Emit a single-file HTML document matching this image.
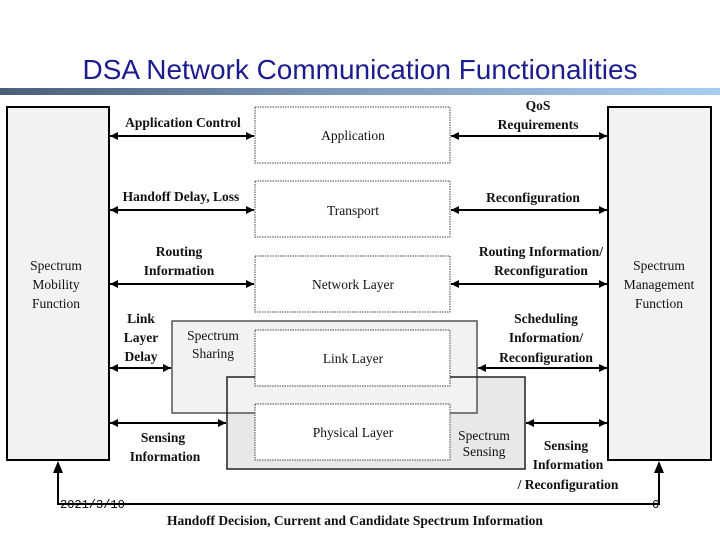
<!DOCTYPE html>
<html><head><meta charset="utf-8"><style>
html,body{margin:0;padding:0;background:#fff;}
svg{display:block;}
.t{font-family:"Liberation Serif",serif;font-size:13.5px;fill:#111;text-anchor:middle;}
.b{font-weight:bold;}
</style></head><body>
<svg width="720" height="540" viewBox="0 0 720 540" xmlns="http://www.w3.org/2000/svg">
<defs>
<linearGradient id="g" x1="0" x2="1" y1="0" y2="0">
<stop offset="0" stop-color="#4a5f78"/><stop offset="0.5" stop-color="#7f9cc0"/><stop offset="1" stop-color="#a9cdf2"/>
</linearGradient>
<marker id="a" viewBox="0 0 10 10" refX="10" refY="5" markerWidth="10" markerHeight="8" markerUnits="userSpaceOnUse" orient="auto-start-reverse">
<path d="M0,0 L10,5 L0,10 z" fill="#000"/></marker>
</defs>
<text x="360" y="79" font-family="Liberation Sans,sans-serif" font-size="28" fill="#1c1c8e" text-anchor="middle" textLength="555" lengthAdjust="spacingAndGlyphs">DSA Network Communication Functionalities</text>
<rect x="0" y="88" width="720" height="7" fill="url(#g)"/>

<rect x="7" y="107" width="102" height="353" fill="#f2f2f2" stroke="#000" stroke-width="2"/>
<rect x="608" y="107" width="103" height="353" fill="#f2f2f2" stroke="#000" stroke-width="2"/>

<rect x="227" y="377" width="298" height="92" fill="#e8e8e8"/>
<rect x="172" y="321" width="305" height="92" fill="#f2f2f2"/>
<rect x="172" y="321" width="305" height="92" fill="none" stroke="#555" stroke-width="1.5"/>
<rect x="227" y="377" width="298" height="92" fill="none" stroke="#222" stroke-width="1.5"/>

<g fill="#fff" stroke="#444" stroke-width="1" stroke-dasharray="1.5,1">
<rect x="255" y="107" width="195" height="56"/>
<rect x="255" y="181" width="195" height="56"/>
<rect x="255" y="256" width="195" height="56"/>
<rect x="255" y="330" width="195" height="56"/>
<rect x="255" y="404" width="195" height="56"/>
</g>

<g stroke="#000" stroke-width="2" marker-start="url(#a)" marker-end="url(#a)">
<line x1="110" y1="136" x2="254" y2="136"/>
<line x1="110" y1="210" x2="254" y2="210"/>
<line x1="110" y1="284" x2="254" y2="284"/>
<line x1="110" y1="368" x2="171" y2="368"/>
<line x1="110" y1="423" x2="226" y2="423"/>
<line x1="451" y1="136" x2="607" y2="136"/>
<line x1="451" y1="210" x2="607" y2="210"/>
<line x1="451" y1="284" x2="607" y2="284"/>
<line x1="478" y1="368" x2="607" y2="368"/>
<line x1="526" y1="423" x2="607" y2="423"/>
</g>
<g stroke="#000" stroke-width="2" fill="none">
<polyline points="58,472 58,504 659,504 659,472"/>
</g>
<path d="M53,473 L58,461 L63,473 z M654,473 L659,461 L664,473 z"/>

<g class="t">
<text x="56" y="270">Spectrum</text><text x="56" y="289">Mobility</text><text x="56" y="308">Function</text>
<text x="659" y="270">Spectrum</text><text x="659" y="289">Management</text><text x="659" y="308">Function</text>
<text x="353" y="140">Application</text>
<text x="353" y="215">Transport</text>
<text x="353" y="289">Network Layer</text>
<text x="353" y="363">Link Layer</text>
<text x="353" y="437">Physical  Layer</text>
<text x="213" y="340">Spectrum</text><text x="213" y="358">Sharing</text>
<text x="484" y="440">Spectrum</text><text x="484" y="456">Sensing</text>
<text x="183" y="127" class="b">Application Control</text>
<text x="181" y="201" class="b">Handoff Delay, Loss</text>
<text x="179" y="256" class="b">Routing</text><text x="179" y="275" class="b">Information</text>
<text x="141" y="323" class="b">Link</text><text x="141" y="342" class="b">Layer</text><text x="141" y="361" class="b">Delay</text>
<text x="163" y="442" class="b">Sensing</text><text x="165" y="461" class="b">Information</text>
<text x="538" y="110" class="b">QoS</text><text x="538" y="129" class="b">Requirements</text>
<text x="533" y="202" class="b">Reconfiguration</text>
<text x="541" y="256" class="b">Routing Information/</text><text x="541" y="275" class="b">Reconfiguration</text>
<text x="546" y="323" class="b">Scheduling</text><text x="546" y="342" class="b">Information/</text><text x="546" y="362" class="b">Reconfiguration</text>
<text x="566" y="450" class="b">Sensing</text><text x="568" y="469" class="b">Information</text><text x="568" y="489" class="b">/ Reconfiguration</text>
<text x="355" y="525" class="b">Handoff Decision, Current and Candidate Spectrum Information</text>
</g>
<text x="60" y="508" font-family="Liberation Mono,monospace" font-size="12" fill="#000">2021/3/10</text>
<text x="652" y="508" font-family="Liberation Mono,monospace" font-size="12" fill="#000">6</text>
</svg>
</body></html>
